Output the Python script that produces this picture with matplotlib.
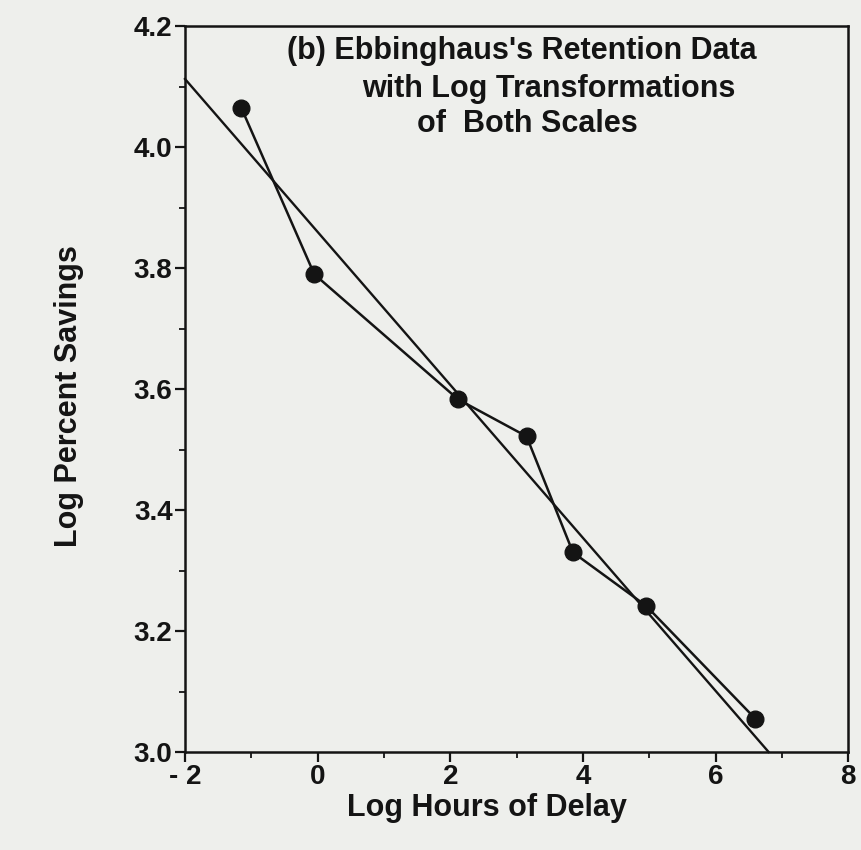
import matplotlib
matplotlib.use("Agg")
import matplotlib.pyplot as plt
from matplotlib.ticker import MultipleLocator

# Ebbinghaus savings, both scales log transformed
log_hours = [-1.15, -0.05, 2.12, 3.15, 3.85, 4.95, 6.6]
log_savings = [4.065, 3.79, 3.583, 3.522, 3.33, 3.242, 3.055]

# fitted straight line, two end points
fit_x = [-2.0, 6.8]
fit_y = [4.113, 3.0]

x_ticks = [-2, 0, 2, 4, 6, 8]
x_tick_labels = ["- 2", "0", "2", "4", "6", "8"]
y_ticks = [3.0, 3.2, 3.4, 3.6, 3.8, 4.0, 4.2]
y_tick_labels = ["3.0", "3.2", "3.4", "3.6", "3.8", "4.0", "4.2"]

title_lines = ["(b) Ebbinghaus's Retention Data",
               "with Log Transformations",
               "of  Both Scales"]

bg = "#eeefec"
ink = "#141414"

plt.rcParams['font.family'] = ['Liberation Sans', 'DejaVu Sans']
plt.rcParams['font.weight'] = 'bold'

fig = plt.figure(figsize=(8.62, 8.5), dpi=100, facecolor=bg)
ax = fig.add_axes([0.2146, 0.1153, 0.7694, 0.8537], facecolor=bg)

ax.plot(fit_x, fit_y, color=ink, lw=1.7, clip_on=False)
ax.plot(log_hours, log_savings, color=ink, lw=1.8, marker='o', ms=12,
        mfc=ink, mec=ink)

ax.set_xlim(-2, 8)
ax.set_ylim(3.0, 4.2)
ax.set_xticks(x_ticks)
ax.set_xticklabels(x_tick_labels)
ax.set_yticks(y_ticks)
ax.set_yticklabels(y_tick_labels)
ax.xaxis.set_minor_locator(MultipleLocator(1))
ax.yaxis.set_minor_locator(MultipleLocator(0.1))

for s in ax.spines.values():
    s.set_linewidth(1.8)
    s.set_color(ink)

ax.tick_params(axis='both', which='major', direction='out', length=7,
               width=1.6, colors=ink, labelsize=20, pad=2)
ax.tick_params(axis='y', which='major', pad=2)
ax.tick_params(axis='both', which='minor', direction='out', length=4,
               width=1.3, colors=ink)

ax.set_xlabel("Log Hours of Delay", fontsize=22, fontweight='bold',
              color=ink)
ax.xaxis.set_label_coords(0.455, -0.057)
ax.set_ylabel("Log Percent Savings", fontsize=22, fontweight='bold',
              color=ink)
ax.yaxis.set_label_coords(-0.152, 0.49)

# three title lines, each centred where it sits in the original
title_x = [0.508, 0.549, 0.517]
title_y = [0.966, 0.913, 0.866]
for line, tx, ty in zip(title_lines, title_x, title_y):
    ax.text(tx, ty, line, transform=ax.transAxes, ha='center', va='center',
            fontsize=22, fontweight='bold', color=ink)

fig.savefig("out.png", dpi=100, facecolor=bg)
